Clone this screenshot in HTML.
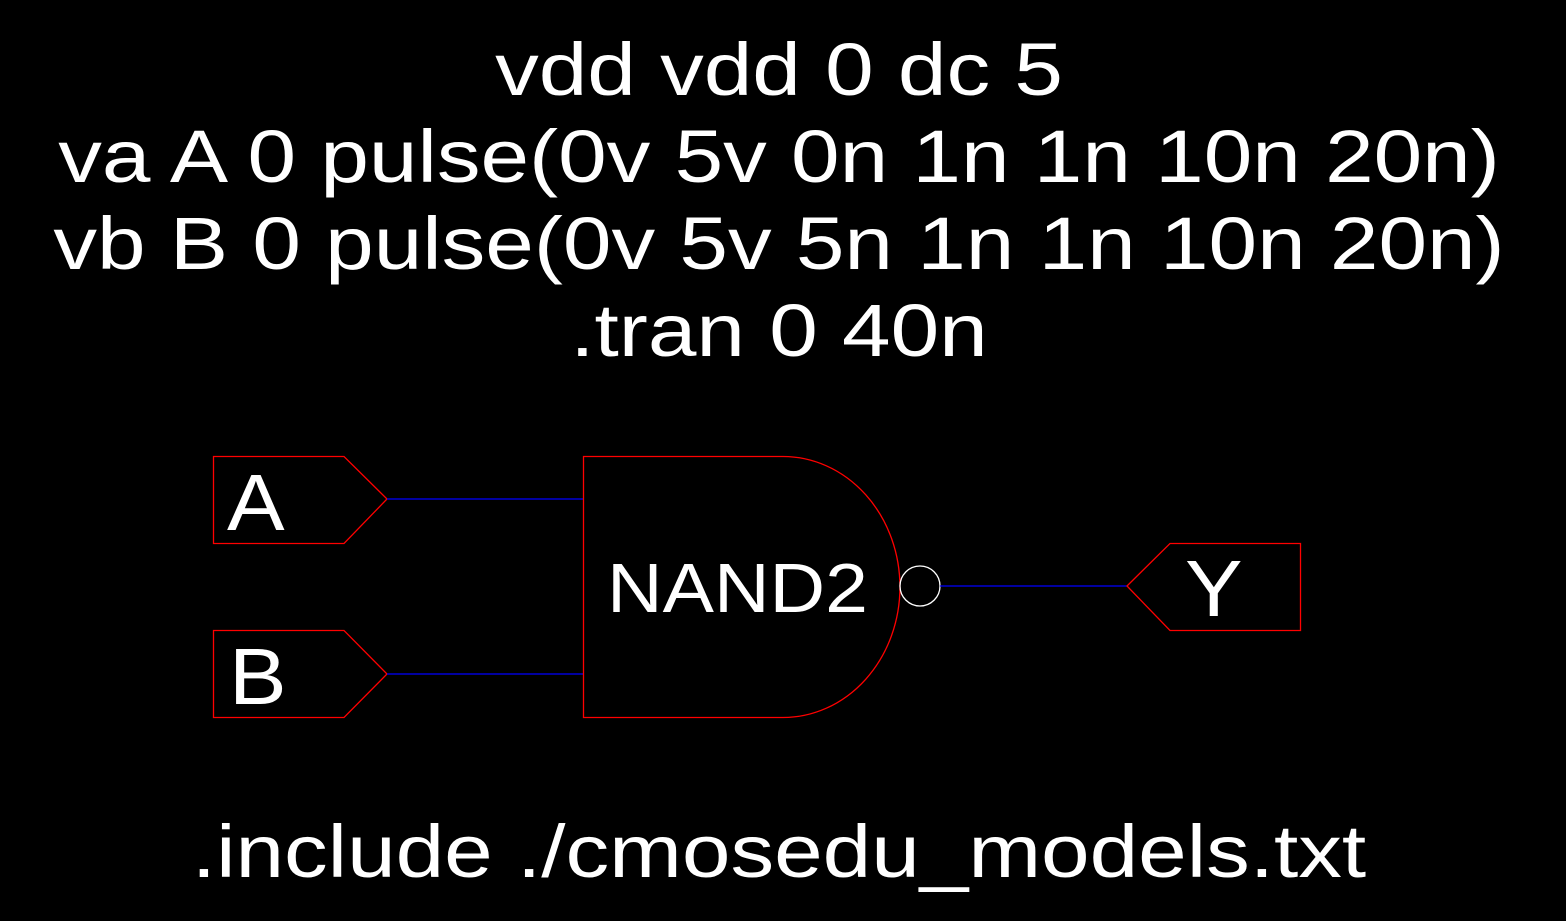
<!DOCTYPE html>
<html><head><style>
html,body{margin:0;padding:0;background:#000;width:1566px;height:921px;overflow:hidden}
</style></head><body>
<svg width="1566" height="921" viewBox="0 0 1566 921" xmlns="http://www.w3.org/2000/svg" style="display:block">
<rect width="1566" height="921" fill="#000"/>
<g font-family="Liberation Sans, sans-serif" fill="#fff" text-anchor="middle" font-size="74">
<text transform="translate(779,95) scale(1.18,1)">vdd vdd 0 dc 5</text>
<text transform="translate(779,182) scale(1.18,1)">va A 0 pulse(0v 5v 0n 1n 1n 10n 20n)</text>
<text transform="translate(779,269) scale(1.18,1)">vb B 0 pulse(0v 5v 5n 1n 1n 10n 20n)</text>
<text transform="translate(779,356) scale(1.18,1)">.tran 0 40n</text>
<text transform="translate(779,877) scale(1.18,1)">.include ./cmosedu_models.txt</text>
</g>
<g fill="none" stroke-width="1.3">
<polygon points="213.5,456.5 344,456.5 387,499 344,543.5 213.5,543.5" stroke="#f00"/>
<polygon points="213.5,630.5 344,630.5 387,674 344,717.5 213.5,717.5" stroke="#f00"/>
<line x1="387" y1="499" x2="583" y2="499" stroke="#00f"/>
<line x1="387" y1="674" x2="583" y2="674" stroke="#00f"/>
<path d="M783,456.5 L583.5,456.5 L583.5,717.5 L783,717.5 A117,130.5 0 0 0 783,456.5" stroke="#f00"/>
<circle cx="920" cy="586" r="20" stroke="#fff"/>
<line x1="940" y1="586" x2="1127" y2="586" stroke="#00f"/>
<polygon points="1127,586 1170,543.5 1300.5,543.5 1300.5,630.5 1170,630.5" stroke="#f00"/>
</g>
<g font-family="Liberation Sans, sans-serif" fill="#fff" font-size="80">
<text transform="translate(227,530) scale(1.08,1)">A</text>
<text transform="translate(229,704) scale(1.08,1)">B</text>
<text transform="translate(1185,616) scale(1.08,1)">Y</text>
<text transform="translate(607,612) scale(1.1,1)" font-size="70">NAND2</text>
</g>
</svg>
</body></html>
